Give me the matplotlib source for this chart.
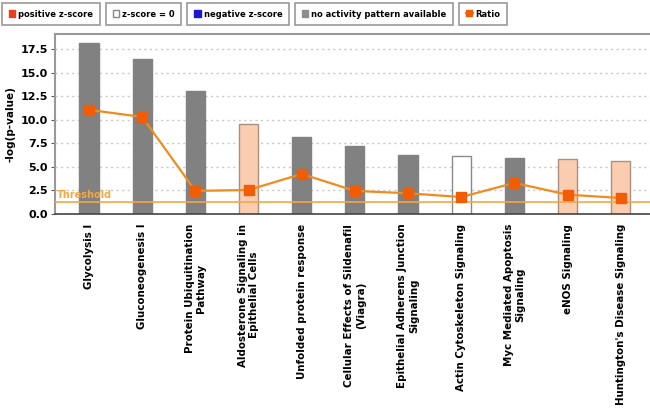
import matplotlib
matplotlib.use("Agg")
import matplotlib.pyplot as plt
from matplotlib.patches import Patch
from matplotlib.lines import Line2D

pathways = [
    "Glycolysis I",
    "Gluconeogenesis I",
    "Protein Ubiquitination\nPathway",
    "Aldosterone Signaling in\nEpithelial Cells",
    "Unfolded protein response",
    "Cellular Effects of Sildenafil\n(Viagra)",
    "Epithelial Adherens Junction\nSignaling",
    "Actin Cytoskeleton Signaling",
    "Myc Mediated Apoptosis\nSignaling",
    "eNOS Signaling",
    "Huntington's Disease Signaling",
]
neg_log_p = [18.15, 16.5, 13.05, 9.6, 8.2, 7.2, 6.3, 6.15, 5.95, 5.8, 5.65]
ratio = [11.05, 10.3, 2.45, 2.55, 4.25, 2.45, 2.2, 1.8, 3.3, 2.05, 1.7]
zscore = ["none", "none", "none", "pos", "none", "none", "none", "zero", "none", "pos", "pos"]
threshold = 1.3

fill = {"none": "#818181", "pos": "#fbcdb0", "zero": "#ffffff"}
edge = {"none": "#818181", "pos": "#a89080", "zero": "#8a8a8a"}

fig = plt.figure(figsize=(6.5, 4.08), dpi=100)
ax = fig.add_axes([55 / 650, 1 - 214 / 408, 1 - 55 / 650, 180 / 408])

x = list(range(len(pathways)))
ax.bar(x, neg_log_p, width=0.36, color=[fill[z] for z in zscore],
       edgecolor=[edge[z] for z in zscore], linewidth=1, zorder=2)
ax.axhline(threshold, color="#f5a842", lw=1.2, zorder=3)
ax.text(-0.6, threshold + 0.2, "Threshold", color="#f5a840", fontsize=7,
        fontweight="bold", va="bottom", ha="left", zorder=4)
ax.plot(x, ratio, color="#f08c1e", lw=1.6, marker="s", markersize=7,
        markerfacecolor="#f25c05", markeredgecolor="#f25c05", zorder=5)

ax.set_xlim(-0.64, 10.55)
ax.set_ylim(0, 19.1)
ax.set_yticks([0, 2.5, 5, 7.5, 10, 12.5, 15, 17.5])
ax.set_yticklabels(["0.0", "2.5", "5.0", "7.5", "10.0", "12.5", "15.0", "17.5"],
                   fontsize=8, fontweight="bold")
ax.yaxis.grid(True, linestyle=(0, (1.5, 2.5)), color="#c8c8c8", lw=1, zorder=0)
ax.set_axisbelow(True)
ax.set_xticks(x)
ax.set_xticklabels(pathways, rotation=90, fontsize=7.4, fontweight="bold",
                   va="top", ha="center", multialignment="center")
ax.tick_params(axis="x", length=0, pad=7)
ax.tick_params(axis="y", length=3, color="#555555", pad=2)
ax.set_ylabel("-log(p-value)", fontsize=7.5, fontweight="bold", labelpad=4)

for s in ["top", "left"]:
    ax.spines[s].set_color("#999999")
    ax.spines[s].set_linewidth(1.5)
ax.spines["right"].set_visible(False)
ax.spines["bottom"].set_color("#444444")
ax.spines["bottom"].set_linewidth(1.2)

legend_items = [
    (Patch(facecolor="#e8401c", edgecolor="#e8401c"), "positive z-score"),
    (Patch(facecolor="#ffffff", edgecolor="#888888"), "z-score = 0"),
    (Patch(facecolor="#1a1acc", edgecolor="#1a1acc"), "negative z-score"),
    (Patch(facecolor="#8c8c8c", edgecolor="#8c8c8c"), "no activity pattern available"),
    (Line2D([], [], color="#f08c1e", lw=1.6, marker="s", markersize=5,
            markerfacecolor="#f25c05", markeredgecolor="#f25c05"), "Ratio"),
]
# place the boxed legend entries one after the other with a small gap
renderer = fig.canvas.get_renderer()
px = 2
for handle, label in legend_items:
    leg = fig.legend([handle], [label], loc="upper left",
                     bbox_to_anchor=(px / 650, 1 - 3 / 408),
                     prop={"size": 6.0, "weight": "bold"}, fancybox=False,
                     edgecolor="#999999", framealpha=1, handlelength=0.8,
                     handleheight=0.9, handletextpad=0.35, borderpad=0.8,
                     borderaxespad=0)
    leg.get_frame().set_linewidth(1.2)
    px = leg.get_window_extent(renderer).x1 + 6

fig.savefig("out.png", dpi=100)
